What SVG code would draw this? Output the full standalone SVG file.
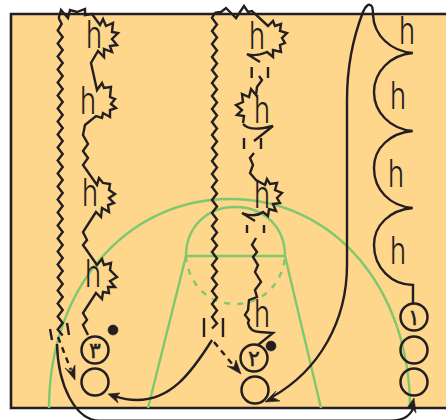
<svg xmlns="http://www.w3.org/2000/svg" width="446" height="420" viewBox="0 0 446 420">
<style>
.court{fill:#fed68c}
.edge{fill:none;stroke:#231f20;stroke-width:2.6}
.g{fill:none;stroke:#7fc86f;stroke-width:2.4}
.gd{stroke-dasharray:6 7}
.p{fill:none;stroke:#231f20;stroke-width:2.4;stroke-linejoin:miter}
.c{fill:none;stroke:#231f20;stroke-width:2.5}
.a{fill:#231f20;stroke:#231f20;stroke-width:.6}
.h{font-family:"Inter","Liberation Sans",sans-serif;font-weight:300;font-size:38px;fill:#231f20}
.n{font-family:"DejaVu Sans",sans-serif;font-size:22px;fill:#231f20;stroke:#231f20;stroke-width:.5;text-anchor:middle}
</style>
<g id="court">
<rect class="court" x="10.5" y="14" width="436" height="394"/>
<path class="edge" d="M446,14H11V408H446"/>
<path class="g" d="M49,408C49,290 125,199 230,199C335,199 410,290 410,408"/>
<path class="g" d="M186,256C186,227 207,207 235,207C264,207 285,227 285,256Z"/>
<path class="g gd" d="M186,256C188,283 207,304 235,304C263,304 283,283 285,256"/>
<path class="g" d="M186,256L148,408M285,256L321,408"/>
</g>
<g id="connectors">
<path class="p" d="M58.700,18L61,10L68,18L70,10L77,12L85,9L85,15L92,14L100,25L103,19L106,26L113,23L112,32L118,33L112,39L117,45L110,46L112,52L104,49L104,57L98,51L91,63L97,90L102,83L104,88L111,87L110,97L115,99L111,104L116,108L110,110L110,117L103,113L102,118L96,116L85,125L83,135L88,144L83,151L88,158L83,165L97,185L99,178L103,183L110,184L109,190L115,194L109,198L114,203L108,205L109,212L102,208L101,217L96,212L83,232L87,240L83,245L97,265L102,259L104,265L111,263L110,270L117,277L110,281L115,287L108,287L109,293L103,292L102,299L96,293L83,313L87,320L83,325L88,335"/>
<path class="p" d="M58.700,18l3,6-4,6.500 5,6.500-5,6.500 5,6.500-5,6.500 5,6.500-5,6.500 5,6.500-5,6.500 5,6.500-5,6.500 5,6.500-5,6.500 5,6.500-5,6.500 5,6.500-5,6.500 5,6.500-5,6.500 5,6.500-5,6.500 5,6.500-5,6.500 5,6.500-5,6.500 5,6.500-5,6.500 5,6.500-5,6.500 5,6.500-5,6.500 5,6.500-5,6.500 5,6.500-5,6.500 5,6.500-5,6.500 5,6.500-5,6.500 5,6.500-5,6.500 5,6.500-5,6.500 5,6.500-5,6.500 5,6.500-5,6.500 5,6"/>
<path class="p" d="M215,12.700L212,18l5,6.500-5,6.500 5,6.500-5,6.500 5,6.500-5,6.500 5,6.500-5,6.500 5,6.500-5,6.500 5,6.500-5,6.500 5,6.500-5,6.500 5,6.500-5,6.500 5,6.500-5,6.500 5,6.500-5,6.500 5,6.500-5,6.500 5,6.500-5,6.500 5,6.500-5,6.500 5,6.500-5,6.500 5,6.500-5,6.500 5,6.500-5,6.500 5,6.500-5,6.500 5,6.500-5,6.500 5,6.500-5,6.500 5,6.500-5,6.500 5,6.500-5,6.500 5,6.500-5,6.500 5,6.500-5,6.500 5,6.500-5,5"/>
<path class="p" d="M215,12.700L221,12L226,8L231,13L236,18L244,6L248,12L252,11L254,13L268,26L273,21L275,26L281,24L280,31L287,33L282,38L285,43L280,45L281,52L273,50L273,57L267,52Q255,57 247,54L260,62"/>
<path class="p" d="M251.700,67V78M268,67V78M244,138V149M261,138V149M247,225V233M264,225V233M204,318V337M223,318V337M50,329L52,340M67,323L69,335"/>
<path class="p" d="M259,76L262,80L257,87L256,95L251,89L249,97L242,94L243,102L236,105L242,110L237,115L244,116L243,123"/>
<path class="p" d="M243,124Q250,132 273,126L254,141"/>
<path class="p" d="M254,153L250,158L253,165L250,173L256,180L265,185L267,179L270,184L277,183L275,190L282,193L277,198L280,203L273,204L276,211L269,209L268,216L263,212Q255,218 242,213L255,221"/>
<path class="p" d="M256,238L252,245L257,252L253,257L258,265L255,272L261,282L255,290L257,297L249,300L248,310L245,315L249,320L248,323Q250,332 260,332L273,333L258,345"/>
<path class="p" d="M212,340C190,375 170,400 137,400C125,400 120,398 114,396"/>
<path class="a" d="M108,394L120,393L116,397L118,403Z"/>
<path class="p" d="M214,342L233,365" stroke-dasharray="6 5"/>
<path class="a" d="M241,374L227,366L234,367L236,360Z"/>
<path class="p" d="M58,337L71,370" stroke-dasharray="6 5"/>
<path class="a" d="M75,380L65,368L71,372L75,365Z"/>
<path class="p" d="M57,344C58,385 75,420.700 100,420.700L390,420.700C405,420.700 413,414 414,404"/>
<path class="a" d="M414,398L407,408L413,409L416,413Z"/>
<path class="p" d="M272,397C320,370 347,320 347,265L347,100C347,60 356,30 363,12C366,5 369,4 370,5C373,5 373,11 373,15C374,35 390,51 412.700,53"/>
<path class="a" d="M265,402L276,391L272,397L280,401Z"/>
<path class="p" d="M412.700,53C390,55 374,72 374,92C374,112 390,129 412.700,131C390,133 374,148 374,168C374,190 390,206 412.700,208C390,210 374,225 374,245C374,268 392,285 413,285V304"/>
</g>
<g id="d1"><text class="h" transform="translate(86,48) scale(.72,1)">h</text></g>
<g id="d2"><text class="h" transform="translate(80,114) scale(.72,1)">h</text></g>
<g id="d3"><text class="h" transform="translate(82,206) scale(.72,1)">h</text></g>
<g id="d4"><text class="h" transform="translate(85,287) scale(.72,1)">h</text></g>
<g id="d5"><text class="h" transform="translate(249,49) scale(.72,1)">h</text></g>
<g id="d6"><text class="h" transform="translate(254,123) scale(.72,1)">h</text></g>
<g id="d7"><text class="h" transform="translate(254,208) scale(.72,1)">h</text></g>
<g id="d8"><text class="h" transform="translate(254,327) scale(.72,1)">h</text></g>
<g id="d9"><text class="h" transform="translate(399,44) scale(.72,1)">h</text></g>
<g id="d10"><text class="h" transform="translate(390,109) scale(.72,1)">h</text></g>
<g id="d11"><text class="h" transform="translate(388,187) scale(.72,1)">h</text></g>
<g id="d12"><text class="h" transform="translate(390,264) scale(.72,1)">h</text></g>
<g id="p3"><circle class="c" cx="95" cy="350" r="13.500"/><text class="n" x="95" y="358">۳</text></g>
<g id="p3b"><circle class="c" cx="95" cy="382" r="13.500"/></g>
<g id="p2"><circle class="c" cx="254" cy="358" r="13.500"/><text class="n" x="254" y="366">۲</text></g>
<g id="p2b"><circle class="c" cx="255" cy="390" r="13.500"/></g>
<g id="p1"><circle class="c" cx="414" cy="317" r="13.500"/><text class="n" x="414" y="325">۱</text></g>
<g id="p1b"><circle class="c" cx="414" cy="350" r="13.500"/></g>
<g id="p1c"><circle class="c" cx="414" cy="382" r="13.500"/></g>
<g id="ball1"><circle class="a" cx="113" cy="330" r="5"/></g>
<g id="ball2"><circle class="a" cx="271" cy="346" r="5"/></g>
</svg>
